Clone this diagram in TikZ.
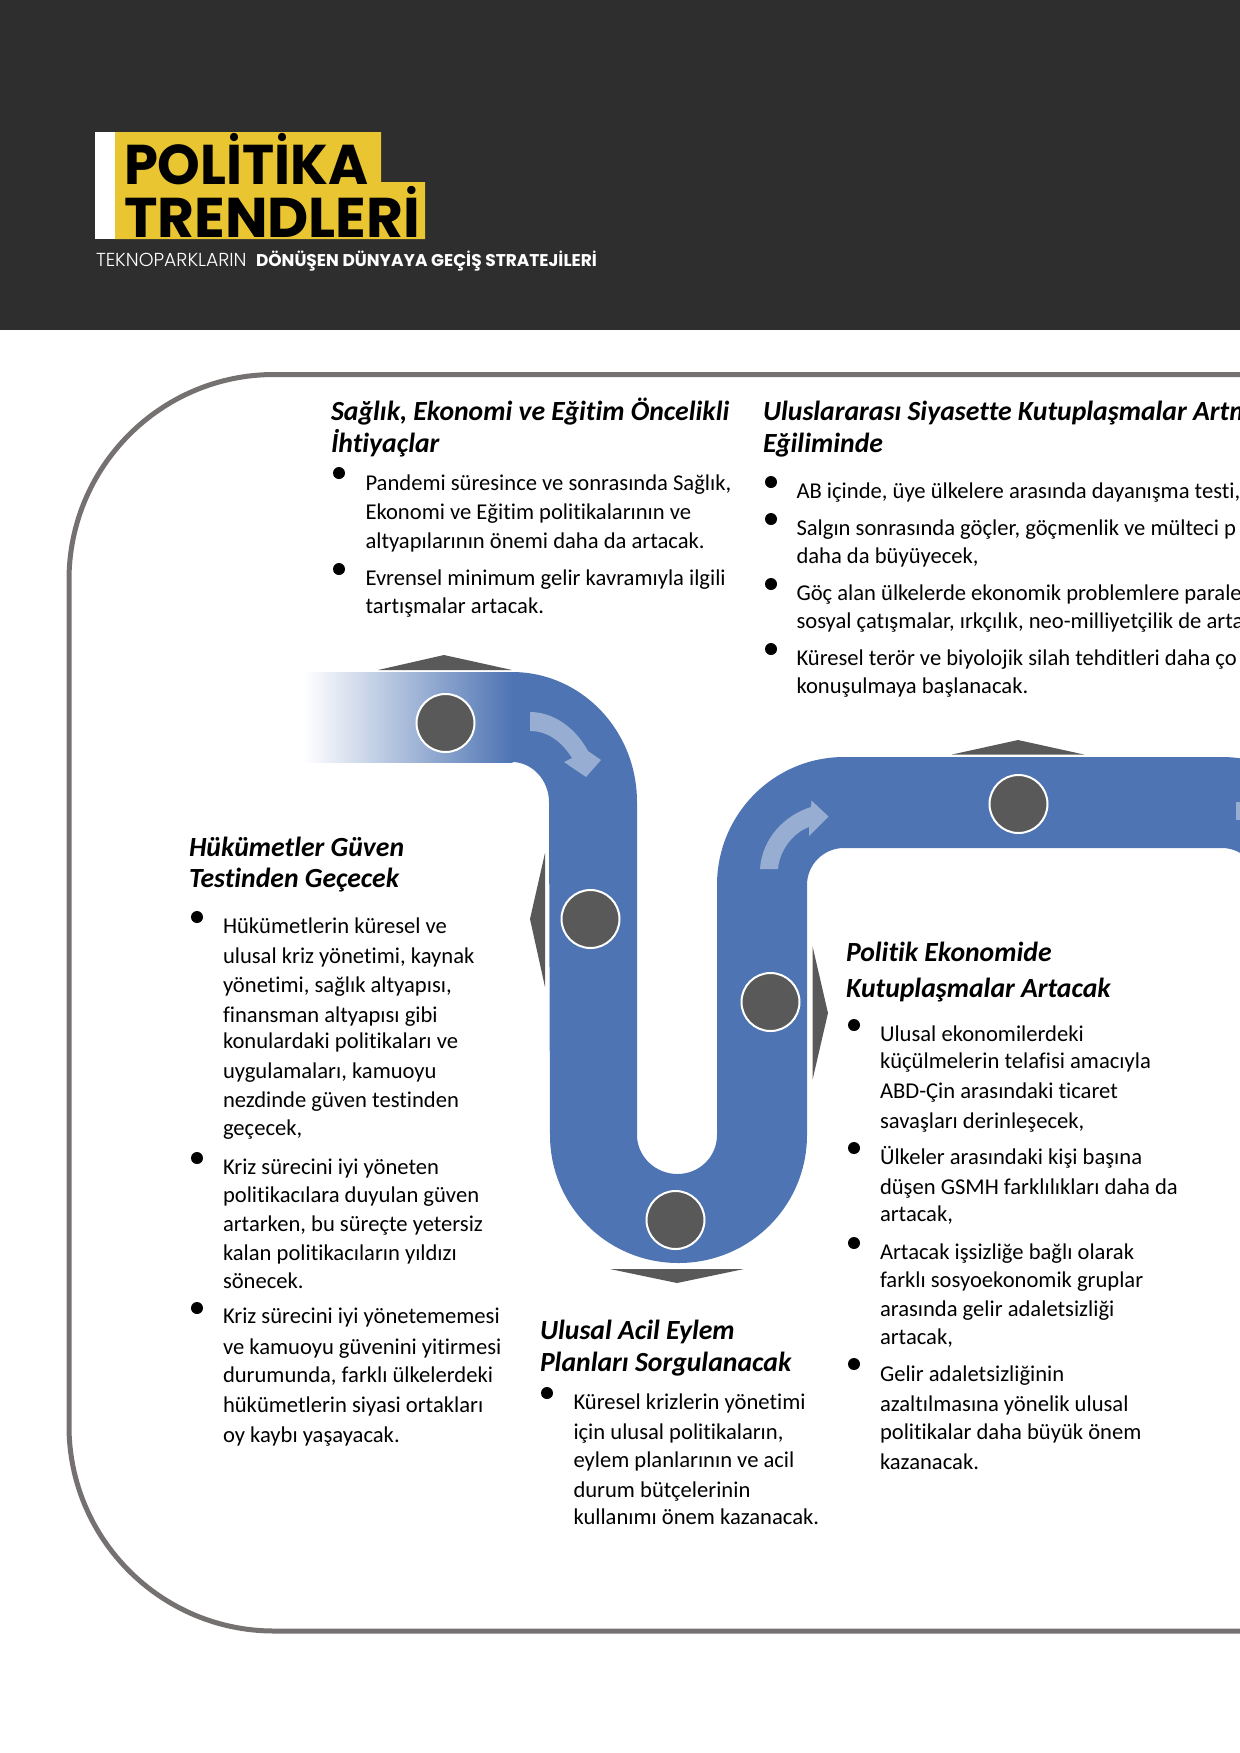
\documentclass[tikz,border=0pt]{standalone}
\usepackage{fontspec}
\setmainfont[Ligatures=NoCommon]{Carlito}
\newfontfamily\pop{Poppins}
\newfontfamily\popl{Poppins Light}
\usetikzlibrary{calc}
\definecolor{headbg}{HTML}{2E2E2E}
\definecolor{logoy}{HTML}{E8C531}
\definecolor{snkblue}{HTML}{4E74B3}
\definecolor{snkmid}{HTML}{BCCCE4}
\definecolor{snkpale}{HTML}{97ADD2}
\definecolor{frameg}{HTML}{767171}
\definecolor{dgray}{HTML}{595959}
\newcounter{tlc}
\tikzset{
  txt/.style={anchor=base west,inner sep=0pt,outer sep=0pt,text=black},
  bodytxt/.style={txt,font=\fontsize{11.3}{13}\selectfont},
  headtxt/.style={txt,font=\fontsize{13.85}{16}\selectfont\bfseries\itshape},
  marker/.style={circle,draw=white,line width=1pt,fill=dgray,minimum size=29pt,inner sep=0pt},
  tri/.style={fill=dgray},
  bul/.style={fill=black},
  logotxt/.style={anchor=base west,inner sep=0pt,outer sep=0pt,text=black,font=\pop\fontsize{28}{30}\selectfont\bfseries},
  subtxt/.style={anchor=base west,inner sep=0pt,outer sep=0pt,text=white}
}
\newcommand{\bline}[3]{\stepcounter{tlc}\node[bodytxt] (b\arabic{tlc}) at (#1,#2) {#3};}
\newcommand{\hdline}[3]{\stepcounter{tlc}\node[headtxt] (h\arabic{tlc}) at (#1,#2) {#3};}
\newcommand{\bdot}[2]{\fill[bul] (#1,#2) circle[radius=3pt];}
\begin{document}
\begin{tikzpicture}[x=0.5pt,y=-0.5pt]
\useasboundingbox (0,0) rectangle (1240,1753);
\begin{scope}
\clip (0,0) rectangle (1240,1753);
\fill[headbg] (0,0) rectangle (1240,330);
% logo
\fill[white] (95,132) rectangle (115,239);
\fill[logoy] (115,132) -- (381,132) -- (381,182) -- (425,182) -- (425,239) -- (115,239) -- cycle;
\node[logotxt] (logoa) at (124,184) {\scalebox{0.97}[1]{POLİTİKA}};
\node[logotxt] (logob) at (124,237) {\scalebox{1.012}[1]{TRENDLERİ}};
\node[subtxt,font=\popl\fontsize{9.4}{10}\selectfont] (suba) at (96,266.5) {TEKNOPARKLARIN};
\node[subtxt,font=\pop\fontsize{8.5}{10}\selectfont\bfseries] (subb) at (256,266.5) {DÖNÜŞEN DÜNYAYA GEÇİŞ STRATEJİLERİ};
% frame
\draw[frameg,line width=2.5pt] (1260,374.5) -- (274,374.5)
  .. controls (161,374.5) and (69,466.5) .. (69,580) -- (69,1426)
  .. controls (69,1539) and (161,1631) .. (274,1631) -- (1260,1631);
% ribbon
\shade[left color=white,middle color=snkmid,right color=snkblue,shading angle=90] (304,672) rectangle (512.5,762);
\fill[snkblue] (512,672)
  .. controls (581,672) and (637,730) .. (637,802) -- (637,1135)
  .. controls (637,1156.5) and (655.4,1174) .. (677.5,1174)
  .. controls (699.6,1174) and (717,1156.5) .. (717,1135) -- (717,885)
  .. controls (717,814) and (774,757) .. (844,757) -- (1222,757)
  .. controls (1292,757) and (1349,814) .. (1349,884) -- (1259,885)
  .. controls (1259,865) and (1242,848) .. (1222,848) -- (844,848)
  .. controls (823.6,848) and (807,864.6) .. (807,885) -- (807,1135)
  .. controls (807,1206) and (749.5,1263) .. (678.5,1263)
  .. controls (607.5,1263) and (550,1206) .. (550,1135) -- (549,802)
  .. controls (549,780) and (532,762) .. (512,762) -- cycle;
% light arrows
\fill[snkpale] (530,712) .. controls (553,712) and (575,727) .. (588,751)
  -- (601,760) -- (586,777) -- (564,762) -- (572,758)
  .. controls (562,742) and (548,731) .. (530,731) -- cycle;
\fill[snkpale] (760,869) .. controls (762,838) and (785,815) .. (811,807)
  -- (811.5,800.5) -- (828.5,816.5) -- (809,836) -- (809,827)
  .. controls (795,832) and (780,848) .. (778,869) -- cycle;
\fill[snkpale] (1236,802) rectangle (1245,820);
% markers
\node[marker] (c1) at (445.5,723) {};
\node[marker] (c2) at (590.5,919) {};
\node[marker] (c3) at (770.5,1002) {};
\node[marker] (c4) at (675.5,1220) {};
\node[marker] (c5) at (1018.5,804) {};
% triangles
\fill[tri] (378,670) -- (512,670) -- (444,655) -- cycle;
\fill[tri] (545,853) -- (545,987) -- (530,919) -- cycle;
\fill[tri] (610,1269) -- (744,1269) -- (677,1283) -- cycle;
\fill[tri] (812.5,946) -- (812.5,1080) -- (828,1013) -- cycle;
\fill[tri] (952,754.5) -- (1084,754.5) -- (1018,740) -- cycle;
% block 1
\hdline{331}{420}{Sağlık, Ekonomi ve Eğitim Öncelikli}
\hdline{331}{452}{İhtiyaçlar}
\bdot{339}{473}\bdot{339}{569}
\bline{365.5}{490}{Pandemi süresince ve sonrasında Sağlık,}
\bline{365.5}{519}{Ekonomi ve Eğitim politikalarının ve}
\bline{365.5}{548}{altyapılarının önemi daha da artacak.}
\bline{365.5}{585}{Evrensel minimum gelir kavramıyla ilgili}
\bline{365.5}{613}{tartışmalar artacak.}
% block 2
\hdline{763}{420}{Uluslararası Siyasette Kutuplaşmalar Artm}
\hdline{763}{452}{Eğiliminde}
\bdot{771}{482}\bdot{771}{519}\bdot{771}{584}\bdot{771}{649}
\bline{796.5}{498}{AB içinde, üye ülkelere arasında dayanışma testi,}
\bline{796.5}{535}{Salgın sonrasında göçler, göçmenlik ve mülteci p}
\bline{796.5}{563}{daha da büyüyecek,}
\bline{796.5}{600}{Göç alan ülkelerde ekonomik problemlere parale}
\bline{796.5}{628}{sosyal çatışmalar, ırkçılık, neo-milliyetçilik de arta}
\bline{796.5}{665}{Küresel terör ve biyolojik silah tehditleri daha ço}
\bline{796.5}{693}{konuşulmaya başlanacak.}
% block 3
\hdline{189}{856.5}{Hükümetler Güven}
\hdline{189}{887.5}{Testinden Geçecek}
\bdot{197}{917}\bdot{197}{1158}\bdot{197}{1308}
\bline{223}{933}{Hükümetlerin küresel ve}
\bline{223}{963}{ulusal kriz yönetimi, kaynak}
\bline{223}{992}{yönetimi, sağlık altyapısı,}
\bline{223}{1022}{finansman altyapısı gibi}
\bline{223}{1048}{konulardaki politikaları ve}
\bline{223}{1078}{uygulamaları, kamuoyu}
\bline{223}{1107}{nezdinde güven testinden}
\bline{223}{1135}{geçecek,}
\bline{223}{1174}{Kriz sürecini iyi yöneten}
\bline{223}{1202}{politikacılara duyulan güven}
\bline{223}{1231}{artarken, bu süreçte yetersiz}
\bline{223}{1260}{kalan politikacıların yıldızı}
\bline{223}{1288}{sönecek.}
\bline{223}{1323}{Kriz sürecini iyi yönetememesi}
\bline{223}{1354}{ve kamuoyu güvenini yitirmesi}
\bline{223}{1382}{durumunda, farklı ülkelerdeki}
\bline{223}{1412}{hükümetlerin siyasi ortakları}
\bline{223}{1442}{oy kaybı yaşayacak.}
% block 4
\hdline{540}{1339}{Ulusal Acil Eylem}
\hdline{540}{1371}{Planları Sorgulanacak}
\bdot{547}{1393}
\bline{573.5}{1409}{Küresel krizlerin yönetimi}
\bline{573.5}{1439}{için ulusal politikaların,}
\bline{573.5}{1467}{eylem planlarının ve acil}
\bline{573.5}{1497}{durum bütçelerinin}
\bline{573.5}{1524}{kullanımı önem kazanacak.}
% block 5
\hdline{846}{961}{Politik Ekonomide}
\hdline{846}{997}{Kutuplaşmalar Artacak}
\bdot{854}{1025}\bdot{854}{1148}\bdot{854}{1243}\bdot{854}{1364}
\bline{880}{1041}{Ulusal ekonomilerdeki}
\bline{880}{1068}{küçülmelerin telafisi amacıyla}
\bline{880}{1098}{ABD-Çin arasındaki ticaret}
\bline{880}{1128}{savaşları derinleşecek,}
\bline{880}{1164}{Ülkeler arasındaki kişi başına}
\bline{880}{1194}{düşen GSMH farklılıkları daha da}
\bline{880}{1221}{artacak,}
\bline{880}{1259}{Artacak işsizliğe bağlı olarak}
\bline{880}{1287}{farklı sosyoekonomik gruplar}
\bline{880}{1316}{arasında gelir adaletsizliği}
\bline{880}{1344}{artacak,}
\bline{880}{1381}{Gelir adaletsizliğinin}
\bline{880}{1411}{azaltılmasına yönelik ulusal}
\bline{880}{1439}{politikalar daha büyük önem}
\bline{880}{1469}{kazanacak.}
\end{scope}
\end{tikzpicture}
\end{document}
